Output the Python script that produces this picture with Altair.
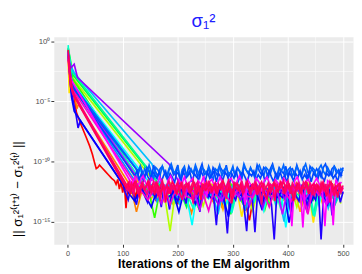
import altair as alt
import pandas as pd

# ---------------- data (log10 of the change per iteration) ----------------
red_desc_x = [1, 3, 8, 16, 25, 33, 40, 45, 49, 52, 55, 58, 62, 68, 74, 80, 85,
              88, 91, 94, 97, 100, 103, 106, 109, 112, 115, 118, 121, 124, 127]
red_desc_y = [-0.6, -1.8, -3.4, -5.9, -7.0, -7.9, -8.7, -9.4, -10.1, -10.6, -10.5, -10.3, -10.5, -10.8, -11.1, -11.4, -11.6,
              -11.9, -11.5, -12.3, -11.7, -12.6, -11.8, -13.9, -12.2, -12.0, -12.7, -11.8, -12.4, -13.1, -12.1]
red_floor = [-12.3, -12.8, -12.1, -13.2, -12.5, -12.0, -12.9, -13.5, -12.2, -12.6, -12.0, -13.0, -12.4, -12.8, -12.1,
             -13.7, -12.3, -12.6, -12.0, -12.9, -14.9, -12.2, -12.7, -13.1, -12.4, -12.0, -12.8, -13.3, -12.2, -12.5,
             -12.1, -13.6, -12.4, -12.9, -12.0, -13.0, -12.3, -12.7]

orange_desc_x = [1, 5, 14, 17, 20]
orange_desc_y = [-1.0, -3.0, -4.8, -5.6, -5.2]
orange_floor = [-12.1, -14.2, -12.4, -11.9, -12.8, -12.2, -13.3, -11.8, -12.5, -12.0, -13.0, -14.3, -12.3, -11.9,
                -12.7, -13.4, -12.1, -12.6, -11.8, -13.1, -12.4, -12.0, -13.6, -12.2, -11.9, -12.8, -12.3, -13.2,
                -12.0, -12.5, -11.8, -13.7, -12.2, -12.6, -12.0, -13.0, -12.4, -11.9, -12.7]

yellow_desc_x = [1, 3, 8]
yellow_desc_y = [-1.6, -4.3, -3.2]
yellow_floor = [-11.9, -12.6, -12.1, -13.2, -12.3, -11.8, -12.9, -12.2, -13.5, -12.0, -12.4, -11.9, -13.0, -12.6,
                -12.1, -13.8, -12.3, -12.0, -14.6, -12.5, -11.9, -12.8, -12.2, -13.3, -12.0, -12.7, -12.3, -13.9,
                -12.1, -12.5, -11.8, -15.1, -12.4, -12.0, -13.1, -12.6, -12.2, -12.9]

amber_desc_x = [1, 6]
amber_desc_y = [-0.8, -2.8]
amber_floor = [-12.0, -12.5, -13.1, -12.2, -11.8, -12.7, -13.6, -12.1, -12.4, -12.9, -12.0, -13.3, -12.6, -11.9,
               -12.3, -14.0, -12.2, -12.8, -12.0, -13.0, -12.5, -12.1, -13.7, -12.3, -11.9, -12.6, -13.2, -12.0,
               -12.4, -14.2, -12.2, -12.7, -11.9, -13.4, -12.3, -12.0, -12.8, -13.1]

chartreuse_desc_x = [1, 7]
chartreuse_desc_y = [-1.1, -2.9]
chartreuse_floor = [-11.6, -12.3, -12.8, -15.8, -12.4, -12.0, -13.2, -12.6, -12.1, -13.7, -12.3, -11.9, -12.8,
                    -12.2, -13.4, -12.5, -12.0, -12.9, -14.1, -12.3, -12.1, -12.7, -13.3, -12.0, -12.5, -12.2,
                    -13.8, -12.4, -11.9, -12.8, -13.1, -12.2, -12.6, -12.0, -13.5, -12.3]

green_desc_x = [1, 9]
green_desc_y = [-0.7, -3.1]
green_floor = [-12.0, -12.6, -14.7, -12.3, -12.9, -12.1, -13.4, -12.5, -12.0, -12.8, -13.9, -12.2, -12.6, -12.0,
               -13.1, -12.4, -11.9, -12.7, -13.5, -12.1, -12.5, -12.2, -14.0, -12.3, -12.8, -12.0, -13.2, -12.6,
               -12.1, -12.9, -13.6, -12.2, -12.5, -12.0, -13.0, -12.4, -12.7, -12.1]

green2_desc_x = [1, 10]
green2_desc_y = [-0.5, -2.8]
green2_floor = [-11.9, -12.5, -13.0, -12.2, -12.7, -13.8, -12.1, -12.4, -12.9, -12.0, -13.3, -12.6, -12.2, -14.4,
                -12.3, -12.0, -12.8, -13.1, -12.4, -12.1, -13.6, -12.5, -12.0, -12.7, -14.0, -12.2, -12.6, -12.0,
                -13.2, -12.4, -12.8, -12.1, -13.5, -12.3, -12.0]

spring_desc_x = [1, 8]
spring_desc_y = [-0.6, -2.5]
spring_floor = [-11.2, -12.2, -12.8, -12.0, -13.4, -12.5, -12.1, -12.9, -13.7, -12.3, -12.0, -12.6, -13.1, -12.2,
                -14.2, -12.4, -12.0, -12.8, -13.3, -12.1, -12.5, -12.9, -12.2, -13.8, -12.4, -12.0, -12.7, -13.0,
                -12.3, -14.5, -12.1, -12.6, -12.2, -13.2, -12.5, -12.0]

teal_desc_x = [1, 3, 5]
teal_desc_y = [-0.3, -1.5, -3.3]
teal_floor = [-11.9, -12.4, -13.0, -12.1, -12.7, -13.5, -12.2, -12.0, -12.8, -13.9, -12.3, -12.6, -12.1, -13.2,
              -12.5, -12.0, -14.3, -12.4, -12.2, -12.9, -13.4, -12.1, -12.6, -12.0, -13.7, -12.3, -12.8, -12.1,
              -13.1, -12.5, -12.2, -14.6, -12.3, -12.0, -12.7, -13.3, -12.2, -12.6, -12.9]

cyan_desc_x = [1, 8]
cyan_desc_y = [-0.9, -3.4]
cyan_floor = [-11.6, -12.3, -12.8, -12.1, -13.4, -12.5, -12.0, -12.9, -15.3, -12.2, -12.6, -13.1, -12.0, -12.4,
              -13.8, -12.3, -12.1, -12.7, -13.2, -12.0, -12.5, -14.1, -12.2, -12.8, -12.0, -15.5, -12.4, -12.1,
              -13.0, -12.6, -12.2, -13.6, -12.0, -12.5, -12.9, -12.3, -13.3]

sky_desc_x = [1, 5, 12]
sky_desc_y = [-0.9, -2.0, -2.6]
sky_floor = [-10.2, -11.4, -12.2, -11.8, -12.6, -13.5, -12.0, -12.4, -11.9, -13.0, -12.3, -12.7, -14.4, -12.1,
             -12.5, -11.8, -13.2, -12.2, -12.8, -12.0, -13.7, -12.4, -12.1, -12.9, -15.0, -12.3, -12.6, -12.0,
             -13.3, -12.2, -12.7, -12.1, -13.9, -12.4, -12.0]

azure_desc_x = [1, 8]
azure_desc_y = [-1.2, -3.6]
azure_floor = [-11.6, -12.2, -12.8, -12.0, -13.3, -12.4, -11.9, -12.6, -13.0, -12.1, -12.5, -13.6, -12.2, -12.0,
               -12.9, -12.3, -13.4, -12.1, -12.7, -12.0, -14.1, -12.4, -12.2, -12.8, -13.1, -12.0, -12.5, -12.3,
               -13.8, -12.1, -12.6, -12.0, -13.2, -12.4, -12.8, -12.2, -14.0, -12.5, -12.1, -12.7]

indigo_desc_x = [1, 6, 16, 19, 23]
indigo_desc_y = [-1.0, -4.0, -6.3, -7.2, -6.6]
indigo_floor = [-11.9, -12.6, -13.2, -12.1, -12.8, -13.6, -12.3, -12.0, -12.9, -13.4,
                -12.2, -12.7, -13.0, -12.4, -13.8, -12.1, -12.6, -14.0, -12.3, -12.9,
                -13.3, -12.2, -12.7, -13.5, -12.0, -12.8, -13.1, -12.4, -14.2, -12.2,
                -12.6, -13.0, -12.3, -12.9, -15.3, -12.5, -12.1, -13.4, -16.0, -12.4,
                -12.8, -13.2, -12.2, -12.6, -13.7, -15.8, -12.3, -12.9, -15.9, -12.5,
                -12.1, -13.1, -12.7, -12.3, -13.6, -16.5, -12.4, -12.8, -13.0, -12.2,
                -12.6, -14.3, -12.3, -12.9, -13.3, -12.1, -12.7, -13.8, -12.4, -12.8,
                -13.2, -12.2, -16.5, -12.6, -13.0, -12.3, -14.5, -12.7, -12.2, -13.4,
                -12.5]

blue_desc_x = [1, 7, 12]
blue_desc_y = [-0.9, -4.6, -5.8]
blue_floor = [-12.0, -12.7, -13.3, -12.2, -12.9, -13.8, -12.4, -12.1, -13.0, -12.6, -14.2, -12.3, -12.8, -13.5,
              -12.1, -12.6, -13.1, -12.4, -12.9, -14.6, -12.2, -12.7, -13.2, -12.0, -12.5, -13.9, -12.3, -12.8,
              -13.0, -12.2, -15.1, -12.5, -12.1, -12.9, -13.4, -12.3, -12.7, -13.6, -12.2, -12.8]

purple_desc_x = [1, 6, 12, 18]
purple_desc_y = [-1.3, -2.2, -1.9, -3.0]
purple_floor = [-10.2, -11.0, -11.9, -12.5, -12.1, -13.0, -12.4, -12.0, -12.8, -13.6, -12.2, -12.6, -12.1, -13.2,
                -12.4, -12.9, -12.0, -13.9, -12.3, -12.7, -12.2, -13.1, -12.5, -12.0, -12.8, -14.1, -12.3, -12.6,
                -12.1, -13.4, -12.4, -12.8]

violet_desc_x = [1, 7]
violet_desc_y = [-1.0, -3.4]
violet_floor = [-11.6, -12.3, -12.9, -12.1, -13.5, -12.4, -12.0, -12.7, -13.1, -12.2, -12.6, -14.0, -12.3, -12.0,
                -12.8, -13.3, -12.1, -12.5, -12.9, -12.2, -13.7, -12.4, -12.0, -12.6, -13.0, -12.3, -14.4, -12.1,
                -12.7, -12.2, -13.2, -12.5, -12.0, -12.8, -13.6, -12.3, -12.6, -12.1, -13.0]

orchid_desc_x = [1, 8]
orchid_desc_y = [-1.4, -3.9]
orchid_floor = [-12.1, -12.6, -13.2, -12.3, -12.8, -12.0, -13.6, -12.4, -12.1, -12.9, -13.1, -12.2, -12.7, -14.1,
                -12.3, -12.0, -12.8, -13.4, -12.5, -12.1, -12.9, -13.0, -12.2, -12.6, -13.8, -12.4, -12.0, -12.7,
                -13.3, -12.2, -12.5, -14.4, -12.1, -12.8, -12.3, -13.2, -12.0, -12.6, -15.3]

bluea_desc_x = [1, 4, 9]
bluea_desc_y = [-0.8, -2.6, -3.8]
bluea_floor = [-10.6, -11.1, -10.4, -10.9, -11.3, -10.5, -10.8, -11.6, -10.3, -10.9,
               -11.2, -10.6, -10.4, -11.0, -11.4, -10.7, -10.5, -11.1, -10.8, -10.3,
               -11.5, -10.9, -10.6, -11.2, -10.4, -10.8, -11.0, -10.5, -11.3, -10.7,
               -10.2, -11.1, -10.9, -10.6, -11.4, -10.5, -10.8, -11.2, -10.4, -10.7,
               -11.0, -10.3, -11.3, -10.9, -10.6, -11.1, -10.5, -10.8, -11.5, -10.4,
               -10.7, -11.0, -10.6, -10.9, -11.2, -10.3, -10.8, -11.1, -10.5, -10.7,
               -11.4, -10.6, -10.2, -10.9, -11.2, -10.5, -10.8, -11.0, -10.4, -11.3,
               -10.7, -10.6, -11.1, -10.3, -10.9, -11.2, -10.5, -10.8, -11.6, -10.4,
               -10.7, -11.0, -10.6, -10.9, -11.3, -10.5, -10.2, -10.8, -11.1, -10.6,
               -10.4, -11.0, -10.7, -11.2, -10.5, -10.9]

blueb_desc_x = [1, 5, 10]
blueb_desc_y = [-1.1, -2.9, -3.6]
blueb_floor = [-10.8, -10.4, -11.2, -10.6, -11.0, -10.3, -10.9, -11.4, -10.5, -10.7,
               -11.1, -10.4, -10.9, -11.3, -10.6, -10.2, -10.8, -11.0, -10.5, -11.5,
               -10.7, -10.4, -11.2, -10.9, -10.6, -11.0, -10.3, -10.8, -11.3, -10.5,
               -10.7, -11.1, -10.4, -10.9, -11.6, -10.6, -10.8, -10.3, -11.2, -10.7,
               -10.5, -11.0, -10.9, -10.4, -11.3, -10.6, -10.8, -11.1, -10.2, -10.7,
               -11.0, -10.5, -10.9, -11.4, -10.6, -10.3, -10.8, -11.2, -10.5, -10.7,
               -11.0, -10.4, -10.9, -11.5, -10.6, -10.8, -10.3, -11.1, -10.7, -10.5,
               -11.2, -10.9, -10.4, -10.8, -11.3, -10.6, -10.2, -10.9, -11.0, -10.5,
               -10.7, -11.4, -10.6, -10.3, -10.8, -11.1, -10.5, -10.9, -11.2, -10.4,
               -10.7, -11.0, -10.6, -10.8, -11.3, -10.5]

bluec_desc_x = [1, 6, 11]
bluec_desc_y = [-1.0, -3.0, -3.9]
bluec_floor = [-11.2, -10.8, -11.5, -11.0, -11.7, -10.9, -11.3, -11.6, -10.8, -11.1,
               -11.4, -10.9, -11.7, -11.2, -10.8, -11.5, -11.0, -11.3, -11.8, -10.9,
               -11.1, -11.6, -10.8, -11.4, -11.2, -10.9, -11.7, -11.0, -11.3, -11.5,
               -10.8, -11.2, -11.6, -10.9, -11.4, -11.1, -10.8, -11.7, -11.0, -11.3,
               -11.5, -10.9, -11.2, -11.8, -11.0, -11.4, -10.8, -11.6, -11.1, -10.9,
               -11.3, -11.7, -11.0, -11.2, -10.8, -11.5, -11.1, -11.4, -10.9, -11.6,
               -11.2, -10.8, -11.3, -11.7, -11.0, -11.4, -10.9, -11.5, -11.1, -11.8,
               -10.9, -11.2, -11.6, -11.0, -11.3, -10.8, -11.5, -11.1, -11.4, -10.9,
               -11.7, -11.0, -11.2, -11.5, -10.8, -11.3, -11.6, -11.0, -11.2, -10.9,
               -11.4, -11.1, -11.7, -10.9, -11.2]

magenta_desc_x = [1, 4, 8]
magenta_desc_y = [-0.9, -2.7, -3.3]
magenta_floor = [-11.5, -11.9, -11.3, -12.1, -11.6, -11.2, -11.8, -12.3, -11.4, -11.7,
                 -12.0, -11.3, -11.9, -13.4, -11.6, -11.2, -11.8, -12.2, -11.5, -11.9,
                 -11.3, -12.0, -11.7, -11.4, -12.4, -11.6, -11.9, -11.2, -13.0, -11.7,
                 -11.5, -12.1, -11.8, -11.3, -11.9, -12.2, -11.6, -11.4, -12.0, -11.7,
                 -11.2, -11.8, -13.6, -11.5, -11.9, -12.1, -11.4, -11.7, -12.3, -11.6,
                 -11.3, -11.9, -12.0, -11.5, -11.8, -12.2, -11.4, -11.7, -11.9, -15.4,
                 -11.6, -11.3, -12.0, -15.5, -11.7, -11.5, -12.1, -11.8, -11.4, -11.9,
                 -12.2, -15.4, -11.6, -11.8, -15.3, -11.5, -12.0, -11.7]

pinka_desc_x = [1, 5, 10]
pinka_desc_y = [-1.2, -3.1, -4.2]
pinka_floor = [-11.9, -12.4, -11.7, -12.2, -12.7, -11.8, -12.1, -12.5, -11.6, -12.3,
               -12.8, -11.9, -12.2, -11.7, -12.6, -12.0, -13.3, -11.8, -12.4, -12.1,
               -11.6, -12.5, -12.0, -12.7, -11.9, -12.3, -11.7, -12.6, -12.1, -11.8,
               -12.4, -13.5, -12.0, -11.7, -12.2, -12.8, -11.9, -12.3, -11.6, -12.5,
               -12.1, -11.8, -12.6, -12.0, -11.7, -12.4, -13.1, -11.9, -12.2, -12.7,
               -11.8, -12.0, -12.5, -11.6, -12.3, -12.1, -11.9, -12.8, -12.2, -11.7,
               -12.4, -12.0, -13.6, -11.8, -12.3, -12.6, -11.9, -12.1, -11.7, -12.5,
               -12.2, -11.8, -12.7, -12.0, -11.6, -12.4, -12.1, -13.2, -11.9, -12.3,
               -12.6, -11.7, -12.0, -12.5, -11.8, -12.2, -12.9, -11.9, -12.1, -12.4,
               -11.7, -12.3, -12.0, -13.4, -11.8, -12.5, -12.1, -11.9, -12.6, -12.2]

pinkb_desc_x = [1, 6, 11]
pinkb_desc_y = [-0.7, -3.4, -4.5]
pinkb_floor = [-12.2, -11.8, -12.6, -12.0, -11.7, -12.4, -12.9, -11.9, -12.3, -12.1,
               -11.6, -12.5, -12.0, -12.8, -11.8, -12.2, -12.6, -11.9, -13.4, -12.1,
               -12.4, -11.7, -12.0, -12.7, -12.2, -11.8, -12.5, -12.1, -11.9, -12.6,
               -12.3, -11.7, -12.8, -12.0, -13.2, -11.9, -12.4, -12.2, -11.8, -12.5,
               -12.0, -12.7, -11.9, -12.3, -11.6, -12.1, -12.6, -12.0, -13.5, -11.8,
               -12.2, -12.4, -11.9, -12.7, -12.1, -11.7, -12.5, -12.0, -12.3, -11.8,
               -12.6, -12.2, -11.9, -12.8, -13.1, -12.0, -12.4, -11.8, -12.2, -12.5,
               -11.7, -12.1, -12.6, -12.0, -11.9, -12.4, -13.3, -12.2, -11.8, -12.5,
               -12.0, -12.3, -11.7, -12.7, -12.1, -11.9, -12.4, -12.0, -12.6, -11.8,
               -12.2, -12.9, -12.0, -11.7, -12.4, -12.1, -13.0, -11.9, -12.3]

pinkc_desc_x = [1, 5, 9]
pinkc_desc_y = [-1.5, -3.6, -4.3]
pinkc_floor = [-12.0, -12.5, -11.8, -12.3, -11.6, -12.7, -12.1, -11.9, -12.4, -12.0,
               -11.7, -12.6, -12.2, -11.8, -12.9, -12.1, -11.6, -12.4, -12.0, -12.7,
               -11.9, -12.3, -12.1, -11.7, -12.6, -13.2, -12.0, -11.8, -12.5, -12.2,
               -11.6, -12.4, -12.0, -12.8, -11.9, -12.2, -11.7, -12.5, -12.1, -12.3,
               -11.8, -12.6, -12.0, -11.9, -12.7, -12.2, -11.6, -12.4, -13.0, -12.1,
               -11.8, -12.3, -12.0, -12.6, -11.7, -12.2, -12.5, -11.9, -12.1, -12.8,
               -12.0, -11.7, -12.4, -12.2, -11.8, -12.6, -12.0, -13.3, -11.9, -12.3,
               -12.1, -11.6, -12.5, -12.0, -12.7, -11.8, -12.2, -12.4, -11.9, -12.6,
               -12.0, -11.7, -12.3, -12.1, -12.8, -11.9, -12.2, -12.5, -11.8, -12.4,
               -12.0, -12.6, -11.7, -12.2, -12.9, -12.1, -11.9, -12.4, -12.0]

# series in drawing order: name, descent x, descent y, floor start iteration, floor step, floor values
series = [
    ("s01", red_desc_x, red_desc_y, 130, 10, red_floor),
    ("s02", orange_desc_x, orange_desc_y, 115, 10, orange_floor),
    ("s03", yellow_desc_x, yellow_desc_y, 136, 10, yellow_floor),
    ("s04", amber_desc_x, amber_desc_y, 132, 10, amber_floor),
    ("s05", chartreuse_desc_x, chartreuse_desc_y, 156, 10, chartreuse_floor),
    ("s06", green_desc_x, green_desc_y, 138, 10, green_floor),
    ("s07", green2_desc_x, green2_desc_y, 166, 10, green2_floor),
    ("s08", spring_desc_x, spring_desc_y, 156, 10, spring_floor),
    ("s09", teal_desc_x, teal_desc_y, 138, 10, teal_floor),
    ("s10", cyan_desc_x, cyan_desc_y, 146, 10, cyan_floor),
    ("s11", sky_desc_x, sky_desc_y, 153, 10, sky_floor),
    ("s12", azure_desc_x, azure_desc_y, 122, 10, azure_floor),
    ("s13", indigo_desc_x, indigo_desc_y, 100, 5, indigo_floor),
    ("s14", blue_desc_x, blue_desc_y, 102, 10, blue_floor),
    ("s15", purple_desc_x, purple_desc_y, 184, 10, purple_floor),
    ("s16", violet_desc_x, violet_desc_y, 130, 10, violet_floor),
    ("s17", orchid_desc_x, orchid_desc_y, 126, 10, orchid_floor),
    ("s18", bluea_desc_x, bluea_desc_y, 124, 4, bluea_floor),
    ("s19", blueb_desc_x, blueb_desc_y, 128, 4, blueb_floor),
    ("s20", bluec_desc_x, bluec_desc_y, 122, 4, bluec_floor),
    ("s21", magenta_desc_x, magenta_desc_y, 112, 5, magenta_floor),
    ("s22", pinka_desc_x, pinka_desc_y, 104, 4, pinka_floor),
    ("s23", pinkb_desc_x, pinkb_desc_y, 106, 4, pinkb_floor),
    ("s24", pinkc_desc_x, pinkc_desc_y, 108, 4, pinkc_floor),
]
series_colors = ["#FF0000", "#FF7F00", "#FFE000", "#FFAA00", "#B3FF00", "#33FF00", "#00FF40", "#00FF99",
                 "#00FFCC", "#00FFFF", "#00BFFF", "#0099FF", "#2200FF", "#0000FF", "#9900FF", "#CC00FF",
                 "#FF00CC", "#0050FF", "#0066FF", "#0044FF", "#FF00FF", "#FF0080", "#FF0050", "#FF0066"]

x_ticks = [0, 100, 200, 300, 400, 500]
x_minor = [50, 150, 250, 350, 450]
y_ticks = [0, -5, -10, -15]
y_minor = [-2.5, -7.5, -12.5]

rows = []
for name, dx, dy, f_start, f_step, fv in series:
    for it, v in zip(dx, dy):
        rows.append({"iter": it, "logv": v, "series": name})
    for k, v in enumerate(fv):
        it = f_start + k * f_step
        if it <= 500:
            rows.append({"iter": it, "logv": v, "series": name})
df = pd.DataFrame(rows)

FONT = "Liberation Sans"
x_scale = alt.Scale(domain=[-25, 518], nice=False, zero=False)
y_scale = alt.Scale(domain=[-16.9, 0.4], nice=False, zero=False)

label_expr = ("datum.value == 0 ? '10⁰' : datum.value == -5 ? '10⁻⁵' : "
              "datum.value == -10 ? '10⁻¹⁰' : '10⁻¹⁵'")

x_axis = alt.Axis(values=x_ticks, title="Iterations of the EM algorithm", grid=True,
                  gridColor="white", gridWidth=1, domain=False, tickColor="#333333",
                  tickSize=3, labelColor="#4D4D4D", labelFontSize=7.5, labelPadding=2,
                  titleFontSize=12.5, titleFontWeight="bold", titleColor="black",
                  titlePadding=1, labelFont=FONT, titleFont=FONT)
y_axis = alt.Axis(values=y_ticks, labelExpr=label_expr,
                  title="|| σ₁²⁽ᵗ⁺¹⁾ − σ₁²⁽ᵗ⁾ ||", grid=True, gridColor="white",
                  gridWidth=1, domain=False, tickColor="#333333", tickSize=3,
                  labelColor="#4D4D4D", labelFontSize=8, labelPadding=1,
                  titleFontSize=13.5, titleFontWeight="normal", titleColor="black",
                  titlePadding=8, titleY=156, labelFont=FONT, titleFont=FONT)
x_enc = alt.X("iter:Q", scale=x_scale, axis=x_axis)
y_enc = alt.Y("logv:Q", scale=y_scale, axis=y_axis)

minor_x = alt.Chart(pd.DataFrame({"iter": x_minor})).mark_rule(color="white", strokeWidth=0.5).encode(x=x_enc)
minor_y = alt.Chart(pd.DataFrame({"logv": y_minor})).mark_rule(color="white", strokeWidth=0.5).encode(y=y_enc)

base = alt.Chart(df)
line_layers = []
for (name, *_), col in zip(series, series_colors):
    line_layers.append(
        base.transform_filter(alt.datum.series == name)
        .mark_line(color=col, strokeWidth=1.7, clip=True)
        .encode(x=x_enc, y=y_enc, order="iter:Q")
    )

chart = alt.layer(minor_x, minor_y, *line_layers).properties(
    width=307, height=213,
    title=alt.TitleParams("σ₁²", color="#2020FF", fontSize=19, fontWeight="normal",
                          anchor="middle", offset=6, font=FONT),
    padding={"left": 3, "right": 0, "top": 0, "bottom": 0},
).configure_view(fill="#EBEBEB", stroke="transparent")

chart.save("out.html", embed_options={"renderer": "svg", "actions": False})
